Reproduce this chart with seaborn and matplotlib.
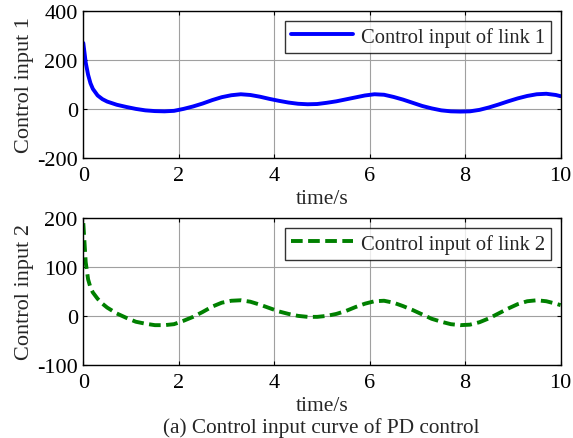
import matplotlib
matplotlib.use("Agg")
import matplotlib.pyplot as plt
import seaborn as sns
import pandas as pd

t = [0, 0.05, 0.1, 0.15, 0.2, 0.3, 0.4, 0.5, 0.7, 0.9, 1.1, 1.3, 1.5, 1.7, 1.9, 2.1, 2.3, 2.5, 2.7, 2.9,
     3.1, 3.3, 3.5, 3.7, 3.9, 4.1, 4.3, 4.5, 4.7, 4.9, 5.1, 5.3, 5.5, 5.7, 5.9, 6.1, 6.3, 6.5, 6.7, 6.9,
     7.1, 7.3, 7.5, 7.7, 7.9, 8.1, 8.3, 8.5, 8.7, 8.9, 9.1, 9.3, 9.5, 9.7, 9.9, 10]
u1 = [270, 190, 140, 105, 82, 55, 40, 30, 17, 8, 0, -6, -9, -10, -8, 0, 10, 22, 36, 48,
      56, 60, 57, 50, 41, 33, 26, 21, 19, 20, 25, 31, 39, 47, 55, 60, 58, 49, 38, 25,
      12, 2, -6, -10, -11, -10, -4, 6, 18, 31, 43, 53, 60, 62, 57, 52]
u2 = [190, 110, 75, 58, 48, 35, 25, 17, 5, -4, -12, -16, -19, -19, -17, -10, -2, 8, 19, 27,
      31, 32, 29, 23, 16, 9, 4, 0, -2, -2, 0, 4, 10, 18, 25, 30, 31, 27, 20, 12,
      3, -6, -12, -17, -19, -18, -13, -5, 5, 15, 24, 30, 32, 30, 25, 22]
xticks = [0, 2, 4, 6, 8, 10]
yticks1 = [-200, 0, 200, 400]
yticks2 = [-100, 0, 100, 200]

sns.set_theme(style="ticks")
plt.rcParams["font.family"] = ["Liberation Serif", "DejaVu Serif"]

df = pd.DataFrame({"t": t, "u1": u1, "u2": u2})

fig = plt.figure(figsize=(5.73, 4.39), dpi=100)
ax1 = fig.add_axes([0.1454, 0.6385, 0.833, 0.3335])
ax2 = fig.add_axes([0.1454, 0.167, 0.833, 0.3335])

sns.lineplot(data=df, x="t", y="u1", ax=ax1, color="#0000ff", lw=2.8,
             label="Control input of link 1")
sns.lineplot(data=df, x="t", y="u2", ax=ax2, color="#008000", lw=2.8,
             linestyle=(0, (3, 1.4)), label="Control input of link 2")

for ax, yt, ylab in [(ax1, yticks1, "Control input 1"), (ax2, yticks2, "Control input 2")]:
    ax.set_xlim(0, 10)
    ax.set_ylim(yt[0], yt[-1])
    ax.set_xticks(xticks)
    ax.set_yticks(yt)
    ax.set_xticklabels([str(v) for v in xticks])
    ax.set_yticklabels([str(v) for v in yt])
    ax.grid(True, color="#a0a0a0", lw=0.8)
    ax.tick_params(direction="in", length=3, width=0.8, labelsize=16, colors="black",
                   top=True, right=True)
    ax.tick_params(axis="x", pad=6)
    ax.tick_params(axis="y", pad=4)
    for s in ax.spines.values():
        s.set_color("black")
        s.set_linewidth(1.0)
    ax.set_xlabel("time/s", fontsize=15.5, labelpad=3)
    ax.set_ylabel(ylab, fontsize=16, labelpad=2)
    leg = ax.legend(loc="upper right", fontsize=14.8, frameon=True, fancybox=False,
                    edgecolor="black", handlelength=3.0, borderpad=0.3,
                    borderaxespad=0.45, handletextpad=0.4)
    leg.get_frame().set_linewidth(1.0)

fig.text(0.56, 0.025, "(a) Control input curve of PD control", ha="center", va="center",
         fontsize=15.3)

fig.savefig("out.png", dpi=100, facecolor="white")
